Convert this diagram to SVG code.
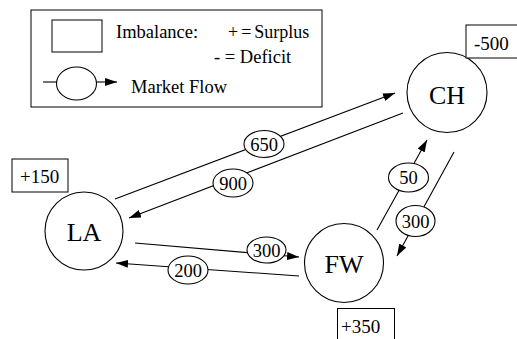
<svg xmlns="http://www.w3.org/2000/svg" width="517" height="339" viewBox="0 0 517 339">
  <style>
    .box { fill: #fff; stroke: #000; stroke-width: 1; }
    .node circle { fill: #fff; stroke: #000; stroke-width: 1.1; }
    .node-label { font-size: 26px; text-anchor: middle; }
    .bal { font-size: 19px; }
    .legend-text { font-size: 18.5px; }
    .flow { stroke: #000; stroke-width: 1.1; fill: none; marker-end: url(#arrow); }
    .tag ellipse { fill: #fff; stroke: #000; stroke-width: 1.1; }
    .tag text { font-size: 18.5px; text-anchor: middle; }
  </style>
  <defs>
    <marker id="arrow" viewBox="0 0 12 8" refX="12" refY="4" markerWidth="12" markerHeight="8" markerUnits="userSpaceOnUse" orient="auto">
      <path d="M0,0 L12,4 L0,8 Z" fill="#000"/>
    </marker>
  </defs>

  <rect width="517" height="339" fill="#fff"/>

  <g font-family="Liberation Serif, Times New Roman, serif" fill="#000">
  <!-- Legend -->
  <g id="legend">
    <rect class="box" x="31" y="10" width="291" height="97"/>
    <rect class="box" x="52" y="20" width="50" height="32"/>
    <text class="legend-text" y="38"><tspan x="116">Imbalance:</tspan><tspan x="228" word-spacing="-1.5" font-size="18">+ = Surplus</tspan></text>
    <text class="legend-text" x="214" y="63" font-size="19">- = Deficit</text>
    <line x1="43" y1="82" x2="57" y2="82" stroke="#000" stroke-width="1.1"/>
    <ellipse cx="76.5" cy="83.5" rx="20" ry="16.5" fill="#fff" stroke="#000" stroke-width="1.1"/>
    <line class="flow" x1="96" y1="82" x2="117" y2="82"/>
    <text class="legend-text" x="131" y="93">Market Flow</text>
  </g>

  <!-- Market flows between regions -->
  <g id="connectors">
    <line class="flow" x1="115" y1="199" x2="395" y2="93"/>
    <line class="flow" x1="403" y1="113" x2="129" y2="218"/>
    <line class="flow" x1="135" y1="243" x2="299" y2="257"/>
    <line class="flow" x1="299" y1="276" x2="116" y2="263"/>
    <line class="flow" x1="377" y1="230" x2="427" y2="140"/>
    <line class="flow" x1="454" y1="152" x2="397" y2="256"/>

    <g class="tag"><ellipse cx="264" cy="144" rx="20" ry="13.5"/><text x="264" y="150.5">650</text></g>
    <g class="tag"><ellipse cx="233" cy="183" rx="20" ry="14"/><text x="233" y="189.5">900</text></g>
    <g class="tag"><ellipse cx="266.5" cy="250" rx="19.5" ry="13"/><text x="266.5" y="256.5">300</text></g>
    <g class="tag"><ellipse cx="188" cy="270" rx="20" ry="14"/><text x="188" y="276.5">200</text></g>
    <g class="tag"><ellipse cx="408.5" cy="177.5" rx="20" ry="14.5"/><text x="408.5" y="184">50</text></g>
    <g class="tag"><ellipse cx="415.5" cy="221" rx="19.5" ry="15.5"/><text x="415.5" y="227.5">300</text></g>
  </g>

  <!-- Regions -->
  <g id="node-ch" class="node">
    <circle cx="447" cy="92.5" r="40"/>
    <text class="node-label" x="447" y="104">CH</text>
    <rect class="box" x="466" y="25" width="53" height="33"/>
    <text class="bal" x="474" y="50">-500</text>
  </g>
  <g id="node-la" class="node">
    <circle cx="84" cy="231" r="39"/>
    <text class="node-label" x="84" y="241">LA</text>
    <rect class="box" x="12" y="159" width="56" height="33"/>
    <text class="bal" x="20" y="183">+150</text>
  </g>
  <g id="node-fw" class="node">
    <circle cx="344" cy="263" r="39.5"/>
    <text class="node-label" x="344" y="273">FW</text>
    <rect class="box" x="337.5" y="308.5" width="57" height="36"/>
    <text class="bal" x="341" y="333">+350</text>
  </g>
  </g>
</svg>
